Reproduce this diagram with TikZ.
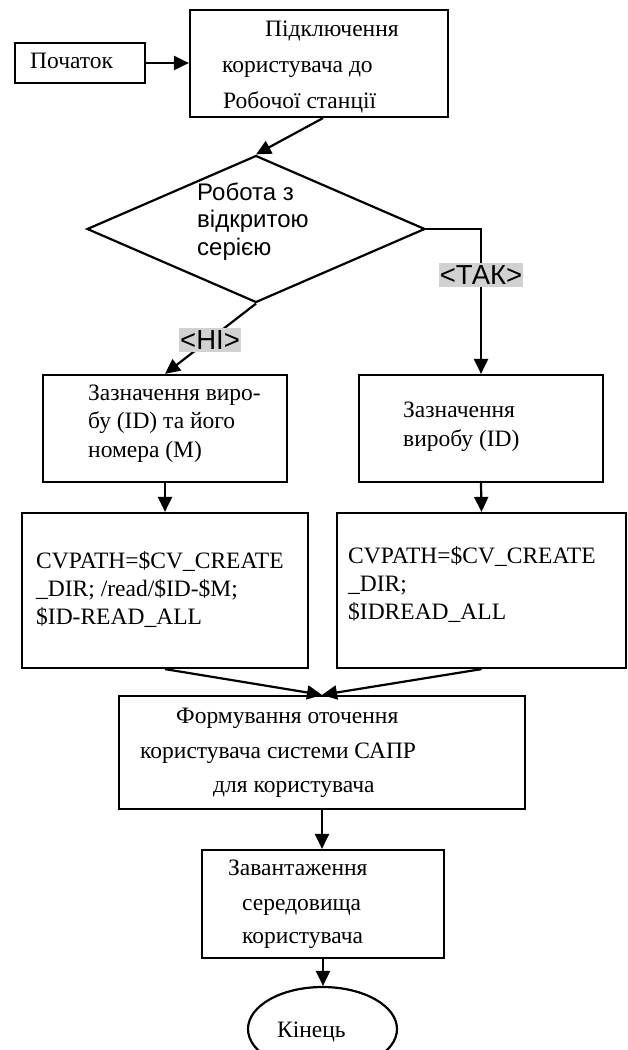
\documentclass[tikz,border=0pt]{standalone}
\usepackage{fontspec}
\setmainfont{Liberation Serif}
\newfontfamily\arialf{Liberation Sans}
\usetikzlibrary{shapes.geometric,arrows.meta}
\begin{document}
\begin{tikzpicture}[x=1pt,y=-1pt,
  box/.style={draw,line width=2.2pt,inner sep=0pt,rectangle},
  tx/.style={anchor=base west,inner sep=0pt,font=\fontsize{23.5}{28}\selectfont},
  dtx/.style={anchor=base west,inner sep=0pt,font=\arialf\fontsize{24}{28}\selectfont},
  ar/.style={line width=2.2pt,-{Triangle[length=15pt,width=14pt]}},
  lab/.style={fill=black!18,inner xsep=1pt,inner ysep=3pt,font=\arialf\fontsize{27.5}{30}\selectfont}
]
\useasboundingbox (0,0) rectangle (628,1050);
\clip (0,0) rectangle (628,1050);

% shapes
\node[box,minimum width=130pt,minimum height=40pt] (start) at (80,63) {};
\node[box,minimum width=258pt,minimum height=107pt] (b1) at (319,63.5) {};
\node[draw,line width=2.2pt,shape=diamond,inner sep=0pt,minimum width=338pt,minimum height=147pt] (dec) at (256,229) {};
\node[box,minimum width=244pt,minimum height=107pt] (bL) at (165,428.5) {};
\node[box,minimum width=244pt,minimum height=107pt] (bR) at (481,428.5) {};
\node[box,minimum width=286pt,minimum height=155pt] (cL) at (165,590.5) {};
\node[box,minimum width=289pt,minimum height=155pt] (cR) at (481.5,590.5) {};
\node[box,minimum width=406pt,minimum height=113pt] (f) at (322,752.5) {};
\node[box,minimum width=242pt,minimum height=108pt] (z) at (323,904) {};
\node[draw,line width=2.2pt,shape=ellipse,inner sep=0pt,minimum width=149pt,minimum height=84pt] (end) at (322.5,1029) {};

% texts
\node[tx] (t0) at (30,68) {Початок};
\node[tx] (t1a) at (265,36) {Підключення};
\node[tx] (t1b) at (222,72) {користувача до};
\node[tx] (t1c) at (223,108) {Робочої станції};
\node[dtx] (d1) at (197,200) {Робота з};
\node[dtx] (d2) at (197,227) {відкритою};
\node[dtx] (d3) at (197,255) {серією};
\node[tx] (l1) at (88,400) {Зазначення виро-};
\node[tx] (l2) at (88,428) {бу (ID) та його};
\node[tx] (l3) at (88,457) {номера (M)};
\node[tx] (r1) at (403,417) {Зазначення};
\node[tx] (r2) at (403,446) {виробу (ID)};
\node[tx] (cl1) at (36,568) {CVPATH=\$CV\_CREATE};
\node[tx] (cl2) at (36,596) {\_DIR; /read/\$ID-\$M;};
\node[tx] (cl3) at (36,624) {\$ID-READ\_ALL};
\node[tx] (cr1) at (348,563) {CVPATH=\$CV\_CREATE};
\node[tx] (cr2) at (348,591) {\_DIR;};
\node[tx] (cr3) at (348,619) {\$IDREAD\_ALL};
\node[tx] (f1) at (176,723) {Формування оточення};
\node[tx] (f2) at (140,758) {користувача системи САПР};
\node[tx] (f3) at (213,792) {для користувача};
\node[tx] (z1) at (228,875) {Завантаження};
\node[tx] (z2) at (242,910) {середовища};
\node[tx] (z3) at (242,943) {користувача};
\node[tx] (e1) at (277,1037) {Кінець};

% connectors
\draw[ar] (start.east) -- (start.east -| b1.west);
\draw[ar] ([xshift=4pt]b1.south) -- (dec.north);
\draw[ar] (dec.east) -| (bR.north);
\draw[ar] (dec.south) -- (bL.north);
\draw[ar] (bL.south) -- (cL.north);
\draw[ar] (bR.south) -- (cR.north);
\draw[ar] (cL.south) -- (f.north);
\draw[ar] (cR.south) -- (f.north);
\draw[ar] (f.south) -- (f.south |- z.north);
\draw[ar] (z.south) -- (z.south |- end.north);

% branch labels
\node[lab] (yes) at (481,275) {<ТАК>};
\node[lab] (no) at (210,340) {<НІ>};
\end{tikzpicture}
\end{document}
